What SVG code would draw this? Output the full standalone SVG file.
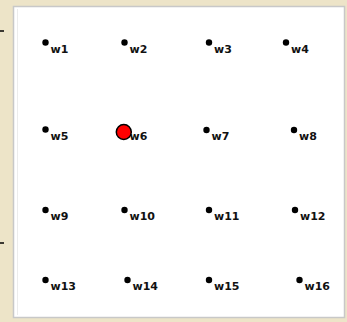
<svg xmlns="http://www.w3.org/2000/svg" width="347" height="322" viewBox="0 0 347 322">
<style>
.dot{fill:#000}
.lbl{font-family:"DejaVu Sans",sans-serif;font-weight:bold;font-size:11px;fill:#111}
</style>
<rect x="0" y="0" width="347" height="322" fill="#ede4c8"/>
<rect x="13.5" y="6.5" width="331" height="311" fill="#fff" stroke="#c8c8c8" stroke-width="1.5"/>
<line x1="17.5" y1="9" x2="17.5" y2="315" stroke="#ececec" stroke-width="1"/>
<line x1="0" y1="31" x2="4" y2="31" stroke="#000" stroke-width="1.5"/>
<line x1="0" y1="243" x2="4" y2="243" stroke="#000" stroke-width="1.5"/>
<g id="w1"><circle class="dot" cx="45.5" cy="42.5" r="3.2"/><text class="lbl" x="50.5" y="52.5">w1</text></g>
<g id="w2"><circle class="dot" cx="124.5" cy="42.5" r="3.2"/><text class="lbl" x="129.5" y="52.5">w2</text></g>
<g id="w3"><circle class="dot" cx="209" cy="42.5" r="3.2"/><text class="lbl" x="214" y="52.5">w3</text></g>
<g id="w4"><circle class="dot" cx="286" cy="42.5" r="3.2"/><text class="lbl" x="291" y="52.5">w4</text></g>
<g id="w5"><circle class="dot" cx="45.5" cy="129.5" r="3.2"/><text class="lbl" x="50.5" y="139.5">w5</text></g>
<g id="w6"><circle class="dot" cx="124.5" cy="130" r="3.2"/><text class="lbl" x="129.5" y="140">w6</text><circle cx="123.8" cy="132" r="7.5" fill="#ff0000" stroke="#000" stroke-width="1.5"/></g>
<g id="w7"><circle class="dot" cx="206.5" cy="130" r="3.2"/><text class="lbl" x="211.5" y="140">w7</text></g>
<g id="w8"><circle class="dot" cx="294" cy="130" r="3.2"/><text class="lbl" x="299" y="140">w8</text></g>
<g id="w9"><circle class="dot" cx="45.5" cy="210" r="3.2"/><text class="lbl" x="50.5" y="220">w9</text></g>
<g id="w10"><circle class="dot" cx="124.5" cy="210" r="3.2"/><text class="lbl" x="129.5" y="220">w10</text></g>
<g id="w11"><circle class="dot" cx="209" cy="210" r="3.2"/><text class="lbl" x="214" y="220">w11</text></g>
<g id="w12"><circle class="dot" cx="295" cy="210" r="3.2"/><text class="lbl" x="300" y="220">w12</text></g>
<g id="w13"><circle class="dot" cx="45.5" cy="280" r="3.2"/><text class="lbl" x="50.5" y="290">w13</text></g>
<g id="w14"><circle class="dot" cx="127.5" cy="280" r="3.2"/><text class="lbl" x="132.5" y="290">w14</text></g>
<g id="w15"><circle class="dot" cx="209" cy="280" r="3.2"/><text class="lbl" x="214" y="290">w15</text></g>
<g id="w16"><circle class="dot" cx="299.5" cy="280" r="3.2"/><text class="lbl" x="304.5" y="290">w16</text></g>
<g id="connectors"></g>
</svg>
